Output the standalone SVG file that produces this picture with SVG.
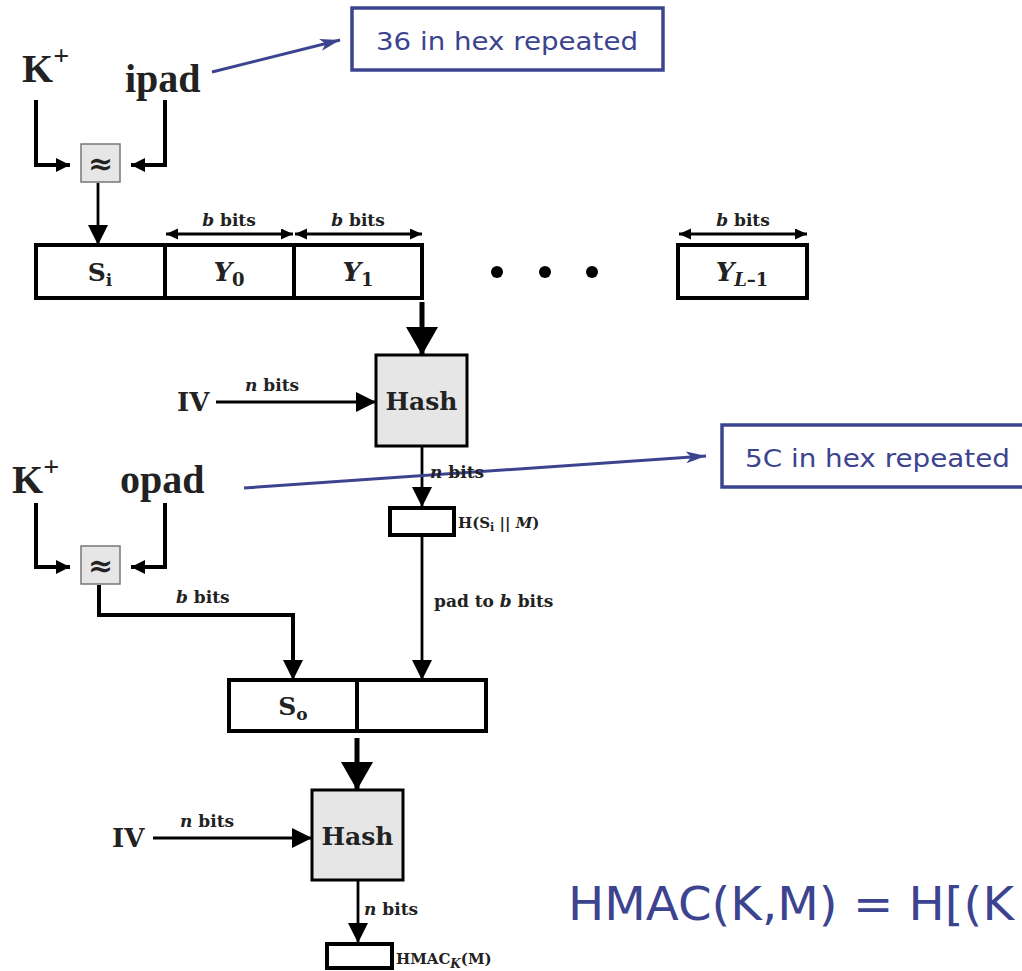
<svg xmlns="http://www.w3.org/2000/svg" width="1022" height="971" viewBox="0 0 1022 971">
<style>
.big{font-family:"Liberation Serif",serif;font-weight:bold;font-size:40px;fill:#222}
.lbl{font-family:"DejaVu Serif",serif;font-weight:bold;fill:#222}
.it{font-style:italic}
.up{font-style:normal}
.blue{font-family:"DejaVu Sans",sans-serif;fill:#3c4490}
.thick{stroke:#000;stroke-width:4;fill:none}
.med{stroke:#000;stroke-width:2.8;fill:none}
.cell{fill:#fff;stroke:#000;stroke-width:4}
.hash{fill:#e6e6e6;stroke:#000;stroke-width:3}
.xor{fill:#e6e6e6;stroke:#777;stroke-width:1.5}
.callout{fill:#fff;stroke:#3c4490;stroke-width:3.5}
.cline{stroke:#3c4490;stroke-width:3;fill:none}
</style>
<defs>
<marker id="am" markerUnits="userSpaceOnUse" markerWidth="22" markerHeight="22" refX="20" refY="10" orient="auto"><path d="M0,0 L20,10 L0,20 z" fill="#000"/></marker>
<marker id="as" markerUnits="userSpaceOnUse" markerWidth="16" markerHeight="16" refX="14" refY="7" orient="auto"><path d="M0,0 L14,7 L0,14 z" fill="#000"/></marker>
<marker id="ad" markerUnits="userSpaceOnUse" markerWidth="14" markerHeight="14" refX="12" refY="5.5" orient="auto-start-reverse"><path d="M0,0 L12,5.5 L0,11 z" fill="#000"/></marker>
<marker id="ab" markerUnits="userSpaceOnUse" markerWidth="34" markerHeight="34" refX="28" refY="16" orient="auto"><path d="M0,0 L28,16 L0,32 z" fill="#000"/></marker>
<marker id="ac" markerUnits="userSpaceOnUse" markerWidth="24" markerHeight="14" refX="20" refY="6" orient="auto"><path d="M0,0 L20,6 L0,12 L5,6 z" fill="#3c4490"/></marker>
</defs>

<g id="connectors">
  <path class="thick" d="M36,100 V165 H70" marker-end="url(#as)"/>
  <path class="thick" d="M165,100 V165 H131" marker-end="url(#as)"/>
  <path class="med" d="M98,183 V245" marker-end="url(#am)"/>
  <path class="med" d="M166,234 H293" marker-start="url(#ad)" marker-end="url(#ad)"/>
  <path class="med" d="M295,234 H422" marker-start="url(#ad)" marker-end="url(#ad)"/>
  <path class="med" d="M679,234 H807" marker-start="url(#ad)" marker-end="url(#ad)"/>
  <path d="M422,302 V355" stroke="#000" stroke-width="5" fill="none" marker-end="url(#ab)"/>
  <path class="med" d="M216,402 H376" marker-end="url(#am)"/>
  <path class="med" d="M422,446 V507" marker-end="url(#am)"/>
  <path class="med" d="M422,535 V680" marker-end="url(#am)"/>
  <path class="thick" d="M36,503 V567 H70" marker-end="url(#as)"/>
  <path class="thick" d="M165,503 V567 H131" marker-end="url(#as)"/>
  <path class="thick" d="M99,585 V615 H293 V662"/>
  <path class="med" d="M293,655 V680" marker-end="url(#am)"/>
  <path d="M357,738 V790" stroke="#000" stroke-width="5" fill="none" marker-end="url(#ab)"/>
  <path class="med" d="M153,838 H312" marker-end="url(#am)"/>
  <path class="med" d="M358,880 V943" marker-end="url(#am)"/>
  <path class="cline" d="M212,72 L340,40" marker-end="url(#ac)"/>
  <path class="cline" d="M244,488 L706,456" marker-end="url(#ac)"/>
</g>

<g id="kplus1"><text class="big" x="22" y="82">K<tspan font-size="28" dy="-17">+</tspan></text></g>
<g id="ipad"><text class="big" x="125" y="92">ipad</text></g>
<g id="xor1"><rect class="xor" x="81" y="144" width="39" height="38"/><text class="lbl" x="100.5" y="174" font-size="30" text-anchor="middle">≈</text></g>

<g id="si-block">
  <rect class="cell" x="36" y="245" width="129" height="53"/>
  <text class="lbl" x="100" y="281" font-size="25" text-anchor="middle">S<tspan font-size="17" dy="5">i</tspan></text>
</g>
<g id="y0"><rect class="cell" x="165" y="245" width="129" height="53"/><text class="lbl" x="229" y="281" font-size="26" text-anchor="middle"><tspan class="it">Y</tspan><tspan class="up" font-size="18" dy="5">0</tspan></text></g>
<g id="y1"><rect class="cell" x="294" y="245" width="128" height="53"/><text class="lbl" x="358" y="281" font-size="26" text-anchor="middle"><tspan class="it">Y</tspan><tspan class="up" font-size="18" dy="5">1</tspan></text></g>
<g id="dots"><circle cx="497" cy="272" r="6"/><circle cx="545" cy="272" r="6"/><circle cx="592" cy="272" r="6"/></g>
<g id="yl1"><rect class="cell" x="678" y="245" width="129" height="53"/><text class="lbl" x="742" y="281" font-size="26" text-anchor="middle"><tspan class="it">Y</tspan><tspan class="it" font-size="18" dy="5">L</tspan><tspan class="up" font-size="18">–1</tspan></text></g>
<g id="bbits-labels">
  <text class="lbl" x="229" y="226" font-size="17" text-anchor="middle"><tspan class="it">b</tspan> bits</text>
  <text class="lbl" x="358" y="226" font-size="17" text-anchor="middle"><tspan class="it">b</tspan> bits</text>
  <text class="lbl" x="743" y="226" font-size="17" text-anchor="middle"><tspan class="it">b</tspan> bits</text>
</g>

<g id="iv1"><text class="lbl" x="177" y="411" font-size="26">IV</text><text class="lbl" x="245" y="391" font-size="17"><tspan class="it">n</tspan> bits</text></g>
<g id="hash1"><rect class="hash" x="376" y="355" width="91" height="91"/><text class="lbl" x="421.5" y="410" font-size="25" text-anchor="middle">Hash</text></g>
<g id="nbits1"><text class="lbl" x="430" y="478" font-size="17"><tspan class="it">n</tspan> bits</text></g>
<g id="hsim"><rect class="cell" x="390" y="508" width="64" height="27"/><text class="lbl" x="458" y="528" font-size="15">H(S<tspan font-size="11" dy="3">i</tspan><tspan dy="-3"> || </tspan><tspan class="it">M</tspan>)</text></g>
<g id="padlbl"><text class="lbl" x="434" y="607" font-size="17">pad to <tspan class="it">b</tspan> bits</text></g>

<g id="kplus2"><text class="big" x="12" y="493">K<tspan font-size="28" dy="-17">+</tspan></text></g>
<g id="opad"><text class="big" x="120" y="493">opad</text></g>
<g id="xor2"><rect class="xor" x="81" y="546" width="39" height="38"/><text class="lbl" x="100.5" y="576" font-size="30" text-anchor="middle">≈</text></g>
<g id="bbits2"><text class="lbl" x="176" y="603" font-size="17"><tspan class="it">b</tspan> bits</text></g>

<g id="so-block">
  <rect class="cell" x="229" y="680" width="128" height="51"/>
  <rect class="cell" x="357" y="680" width="129" height="51"/>
  <text class="lbl" x="293" y="715" font-size="25" text-anchor="middle">S<tspan font-size="17" dy="5">o</tspan></text>
</g>

<g id="iv2"><text class="lbl" x="112" y="847" font-size="26">IV</text><text class="lbl" x="180" y="827" font-size="17"><tspan class="it">n</tspan> bits</text></g>
<g id="hash2"><rect class="hash" x="312" y="790" width="91" height="90"/><text class="lbl" x="357.5" y="845" font-size="25" text-anchor="middle">Hash</text></g>
<g id="nbits2"><text class="lbl" x="364" y="915" font-size="17"><tspan class="it">n</tspan> bits</text></g>
<g id="hmacout"><rect class="cell" x="327" y="944" width="65" height="24"/><text class="lbl" x="396" y="964" font-size="15">HMAC<tspan class="it" font-size="12" dy="4">K</tspan><tspan dy="-4">(M)</tspan></text></g>

<g id="callout1"><rect class="callout" x="352" y="8" width="311" height="62"/><text class="blue" x="376" y="50" font-size="25" textLength="262" lengthAdjust="spacingAndGlyphs">36 in hex repeated</text></g>
<g id="callout2"><rect class="callout" x="722" y="425" width="310" height="62"/><text class="blue" x="745" y="467" font-size="25" textLength="265" lengthAdjust="spacingAndGlyphs">5C in hex repeated</text></g>

<g id="formula"><text class="blue" x="568" y="920" font-size="46" textLength="446" lengthAdjust="spacingAndGlyphs">HMAC(K,M) = H[(K</text></g>
</svg>
